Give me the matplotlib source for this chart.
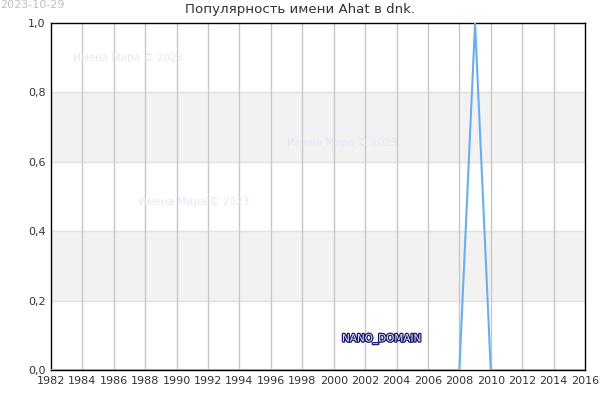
import matplotlib
matplotlib.use('Agg')
import matplotlib.pyplot as plt
import matplotlib.patheffects as pe
from matplotlib.ticker import FuncFormatter

# данные
years = list(range(1982, 2017))
values = [0.0] * len(years)
values[years.index(2009)] = 1.0

title = 'Популярность имени Ahat в dnk.'
stamp = '2023-10-29'
watermark = 'Имена Мира © 2023'

fig = plt.figure(figsize=(6, 4), dpi=100)
ax = fig.add_axes([0.085, 0.075, 0.89, 0.8675])

# серые полосы
for lo, hi in [(0.2, 0.4), (0.6, 0.8)]:
    ax.axhspan(lo, hi, color='#f2f2f2', zorder=0, lw=0)
for y in [0.2, 0.4, 0.6, 0.8]:
    ax.axhline(y, color='#e0e0e0', lw=1, zorder=0.5)
for x in range(1984, 2016, 2):
    ax.axvline(x, color='#c8c8c8', lw=1, zorder=1)

ax.plot(years, values, color='#6aaef0', lw=1.5, zorder=3)

ax.set_xlim(1982, 2016)
ax.set_ylim(0, 1)
ax.set_xticks(range(1982, 2017, 2))
ax.set_yticks([0, 0.2, 0.4, 0.6, 0.8, 1.0])
ax.yaxis.set_major_formatter(FuncFormatter(lambda v, p: ('%.1f' % v).replace('.', ',')))
ax.tick_params(labelsize=8, colors='#333333', length=0, pad=4)
for s in ax.spines.values():
    s.set_color('black')
    s.set_linewidth(1)

fig.text(0.5, 1 - 10 / 400, title, fontsize=9.6, color='#333333', ha='center', va='center')
fig.text(0.0, 0.988, stamp, fontsize=8, color='#c0c0c0', va='center')

# водяные знаки
for x, y in [(73, 58), (287, 143), (139, 202)]:
    fig.text(x / 600, 1 - y / 400, watermark, fontsize=7.5, color='#e6e6f6', va='center')

t = fig.text(342 / 600, 1 - 339 / 400, 'NANO_DOMAIN', fontsize=7.5, color='#e0e0f0',
             va='center')
t.set_path_effects([pe.withStroke(linewidth=1.8, foreground='#1a1a6e')])

fig.savefig('out.png', dpi=100)
